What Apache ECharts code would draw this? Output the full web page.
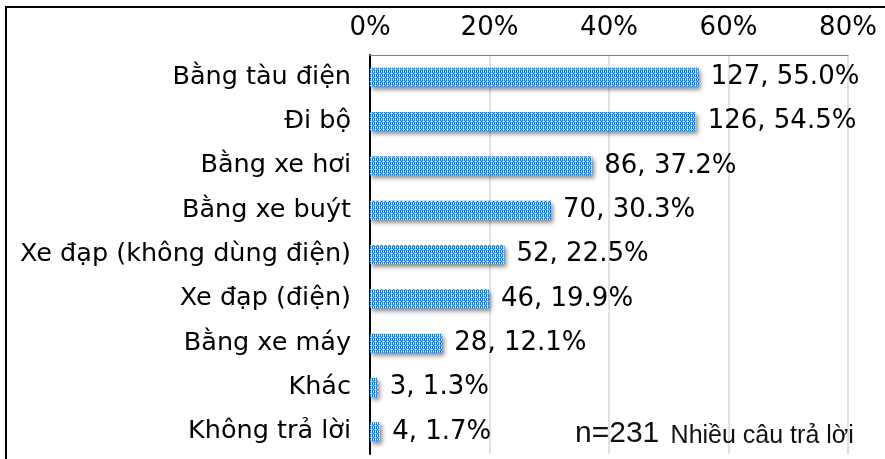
<!DOCTYPE html>
<html>
<head>
<meta charset="utf-8">
<script src="https://cdn.jsdelivr.net/npm/echarts@6/dist/echarts.min.js"></script>
<style>
html,body{margin:0;padding:0;background:#fff;}
#chart{width:885px;height:459px;}
</style>
</head>
<body>
<div id="chart"></div>
<script>
var categories = ["Bằng tàu điện","Đi bộ","Bằng xe hơi","Bằng xe buýt","Xe đạp (không dùng điện)","Xe đạp (điện)","Bằng xe máy","Khác","Không trả lời"];
var counts = [127,126,86,70,52,46,28,3,4];
var percents = [55.0,54.5,37.2,30.3,22.5,19.9,12.1,1.3,1.7];
var tickLabels = ["0%","20%","40%","60%","80%"];
var note = "n=231";
var noteText = "Nhiều câu trả lời";

function makePattern(){
  var c = document.createElement('canvas');
  c.width = 4; c.height = 4;
  var g = c.getContext('2d');
  g.fillStyle = '#1a75cf';
  g.fillRect(0,0,4,4);
  g.fillStyle = '#8fc0ee';
  g.fillRect(0,1,1,1); g.fillRect(2,1,1,1);
  g.fillRect(1,0,1,1); g.fillRect(1,2,1,1);
  g.fillRect(3,0,1,1); g.fillRect(3,2,1,1);
  g.fillStyle = '#ffffff';
  g.fillRect(3,3,1,1); g.fillRect(1,3,1,1); g.fillRect(3,1,1,1);
  return c;
}

var font = '"DejaVu Sans", "Noto Sans", sans-serif';
var chart = echarts.init(document.getElementById('chart'));
var option = {
  animation:false,
  grid:{left:370,right:37,top:55,bottom:5},
  xAxis:{
    type:'value', position:'top', min:0, max:80, interval:20,
    axisLine:{show:true,lineStyle:{color:'#808080',width:1}},
    axisTick:{show:false},
    splitLine:{show:true,lineStyle:{color:'#d9d9d9',width:1.5}},
    axisLabel:{margin:14,fontSize:26,color:'#000',fontFamily:font,
      formatter:function(v){return tickLabels[Math.round(v/20)];}}
  },
  yAxis:{
    type:'category', inverse:true, data:categories,
    axisLine:{show:true,lineStyle:{color:'#000',width:2}},
    axisTick:{show:false},
    axisLabel:{margin:19,fontSize:25.5,color:'#000',fontFamily:font}
  },
  series:[{
    type:'bar', barWidth:19,
    data:percents,
    itemStyle:{
      color:{image:makePattern(),repeat:'repeat'},
      shadowColor:'rgba(0,0,0,0.45)', shadowBlur:4, shadowOffsetX:2, shadowOffsetY:3
    },
    label:{show:true,position:'right',distance:12,fontSize:26,color:'#000',fontFamily:font,
      formatter:function(p){return counts[p.dataIndex]+', '+percents[p.dataIndex].toFixed(1)+'%';}}
  }],
  graphic:[
    {type:'rect',shape:{x:6,y:7,width:900,height:500},style:{fill:null,stroke:'#000',lineWidth:2},z:0,silent:true},
    {type:'text',left:575,top:419,z:10,style:{
      rich:{a:{fontSize:30,fontFamily:'"Liberation Sans", Arial, sans-serif',fill:'#111',verticalAlign:'bottom'},
            b:{fontSize:25,fontFamily:'"Liberation Sans", Arial, sans-serif',fill:'#111',verticalAlign:'bottom',padding:[0,0,0,8]}},
      text:'{a|'+note+'} {b|'+noteText+'}'}}
  ]
};
chart.setOption(option);
</script>
</body>
</html>
